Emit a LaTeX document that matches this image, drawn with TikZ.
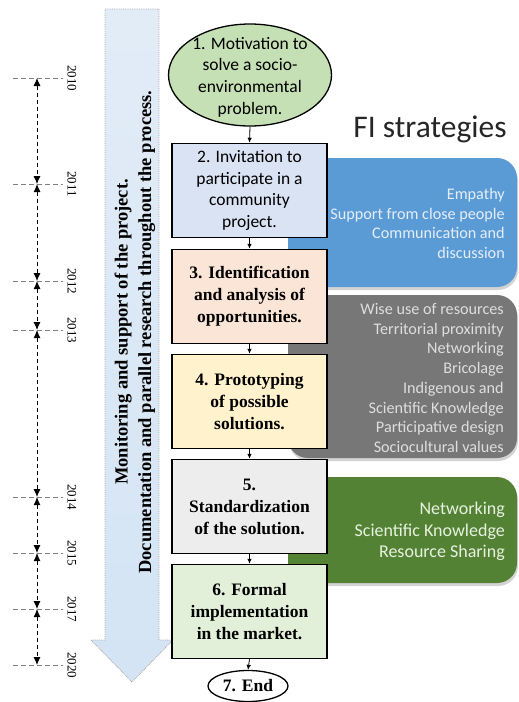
\documentclass[tikz,border=0pt]{standalone}
\usepackage{fontspec}
\setmainfont{Liberation Serif}
\newfontfamily\calibri{Carlito}
\usetikzlibrary{shapes.geometric,arrows.meta,shadows}
\definecolor{ellgreen}{HTML}{C5E0B4}
\definecolor{boxblue}{HTML}{DAE3F3}
\definecolor{boxorange}{HTML}{FBE5D6}
\definecolor{boxyellow}{HTML}{FFF2CC}
\definecolor{boxgrey}{HTML}{EDEDED}
\definecolor{boxgreen}{HTML}{E2F0D9}
\definecolor{panelblue}{HTML}{5B9BD5}
\definecolor{panelgrey}{HTML}{777777}
\definecolor{panelgreen}{HTML}{548235}
\definecolor{txtblue}{HTML}{E4EEF9}
\definecolor{txtgrey}{HTML}{DEDEDE}
\definecolor{txtgreen}{HTML}{E6F2DF}
\definecolor{arrtop}{HTML}{E2ECF7}
\definecolor{arrmid}{HTML}{B5D0EC}
\definecolor{arrbot}{HTML}{D4E4F4}
\definecolor{titlegrey}{HTML}{262626}
\begin{document}
\begin{tikzpicture}[x=1pt,y=-1pt,
  flowbox/.style={draw=black, line width=1.5pt, minimum width=155pt, minimum height=94pt, inner sep=0pt, align=center},
  serifbold/.style={font=\bfseries\fontsize{17.5}{22}\selectfont},
  calfont/.style={font=\calibri\fontsize{17.5}{21.7}\selectfont},
  panel/.style={rounded corners=20pt, inner sep=0pt, drop shadow={shadow xshift=1pt, shadow yshift=-3pt, opacity=0.35}},
  paneltext/.style={anchor=east, align=right, inner sep=0pt},
  flowarrow/.style={-{Latex[length=5pt,width=4.5pt]}, line width=0.8pt},
  timearrow/.style={{Latex[length=8pt,width=7pt]}-{Latex[length=8pt,width=7pt]}, dash pattern=on 4pt off 3pt, line width=0.9pt},
  tickline/.style={draw=gray, dash pattern=on 5pt off 3pt, line width=1pt},
  year/.style={rotate=-90, font=\fontsize{13}{15}\selectfont, inner sep=0pt}
]
\useasboundingbox (0,0) rectangle (519,702);

% ---- big vertical arrow
\shade[top color=arrtop, middle color=arrmid, bottom color=arrbot]
  (105,9) -- (159,9) -- (159,640) -- (173,640) -- (132,682) -- (91,640) -- (105,640) -- cycle;
\draw[gray!70, densely dotted, line width=0.8pt]
  (105,9) -- (159,9) -- (159,640) -- (173,640) -- (132,682) -- (91,640) -- (105,640) -- cycle;
\node[rotate=90, align=center, font=\bfseries\fontsize{18.5}{23.5}\selectfont, inner sep=0pt] (arrtext) at (135,332)
  {Monitoring and support of the project.\\Documentation and parallel research throughout the process.};

% ---- timeline
\foreach \yr/\yy in {2010/78,2011/184,2012/281,2013/330,2014/497,2015/553,2017/609,2020/665}{
  \coordinate (t\yr) at (37,\yy);
  \coordinate (tl\yr) at (13,\yy);
  \coordinate (tr\yr) at (63,\yy);
  \draw[tickline] (tl\yr) -- (tr\yr);
  \node[year] (lab\yr) at (72,\yy) {\yr};
}
\draw[timearrow] (t2010) -- (t2011);
\draw[timearrow] (t2011) -- (t2012);
\draw[timearrow] (t2012) -- (t2013);
\draw[timearrow] (t2013) -- (t2014);
\draw[timearrow] (t2014) -- (t2015);
\draw[timearrow] (t2015) -- (t2017);
\draw[timearrow] (t2017) -- (t2020);

% ---- right panels
\node[panel, fill=panelblue, minimum width=229pt, minimum height=129pt] (pblue) at (402.5,222.5) {};
\node[panel, fill=panelgrey, minimum width=229pt, minimum height=163pt] (pgrey) at (402.5,376.5) {};
\node[panel, fill=panelgreen, minimum width=229pt, minimum height=106pt] (pgreen) at (402.5,530) {};

\node[paneltext, text=txtblue, font=\calibri\fontsize{16.2}{19.5}\selectfont] (tblue) at (505,223.5)
  {Empathy\\Support from close people\\Communication and\\discussion};
\node[paneltext, text=txtgrey, font=\calibri\fontsize{16.2}{19.7}\selectfont] (tgrey) at (504,378)
  {Wise use of resources\\Territorial proximity\\Networking\\Bricolage\\Indigenous and\\Scientific Knowledge\\Participative design\\Sociocultural values};
\node[paneltext, text=txtgreen, font=\calibri\fontsize{18}{21.5}\selectfont] (tgreen) at (505,531.5)
  {Networking\\Scientific Knowledge\\Resource Sharing};

\node[font=\calibri\fontsize{31.5}{36}\selectfont, text=titlegrey, inner sep=0pt] (title) at (430,129) {FI strategies};

% ---- flow chart
\node[ellipse, draw=black, line width=1.3pt, fill=ellgreen, minimum width=163pt, minimum height=102pt, inner sep=0pt] (e1) at (250,75) {};
\node[calfont, align=center, inner sep=0pt] (e1t) at (250,77) {1. Motivation to\\solve a socio-\\environmental\\problem.};
\node[flowbox, fill=boxblue, calfont] (b2) at (249.5,190.5) {2. Invitation to\\participate in a\\community\\project.};
\node[flowbox, fill=boxorange, serifbold] (b3) at (249.5,296.5) {3. Identification\\and analysis of\\opportunities.};
\node[flowbox, fill=boxyellow, serifbold] (b4) at (249.5,401.5) {4. Prototyping\\of possible\\solutions.};
\node[flowbox, fill=boxgrey, serifbold] (b5) at (249.5,506.5) {5.\\Standardization\\of the solution.};
\node[flowbox, fill=boxgreen, serifbold] (b6) at (249.5,611.5) {6. Formal\\implementation\\in the market.};
\node[ellipse, draw=black, line width=1.3pt, fill=white, minimum width=80pt, minimum height=31pt, inner sep=0pt, serifbold] (e7) at (248,686) {7. End};

\draw[flowarrow] (e1.south) -- (b2.north);
\draw[flowarrow] (b2.south) -- (b3.north);
\draw[flowarrow] (b3.south) -- (b4.north);
\draw[flowarrow] (b4.south) -- (b5.north);
\draw[flowarrow] (b5.south) -- (b6.north);
\draw[flowarrow] (b6.south) -- (e7.north);
\end{tikzpicture}
\end{document}
